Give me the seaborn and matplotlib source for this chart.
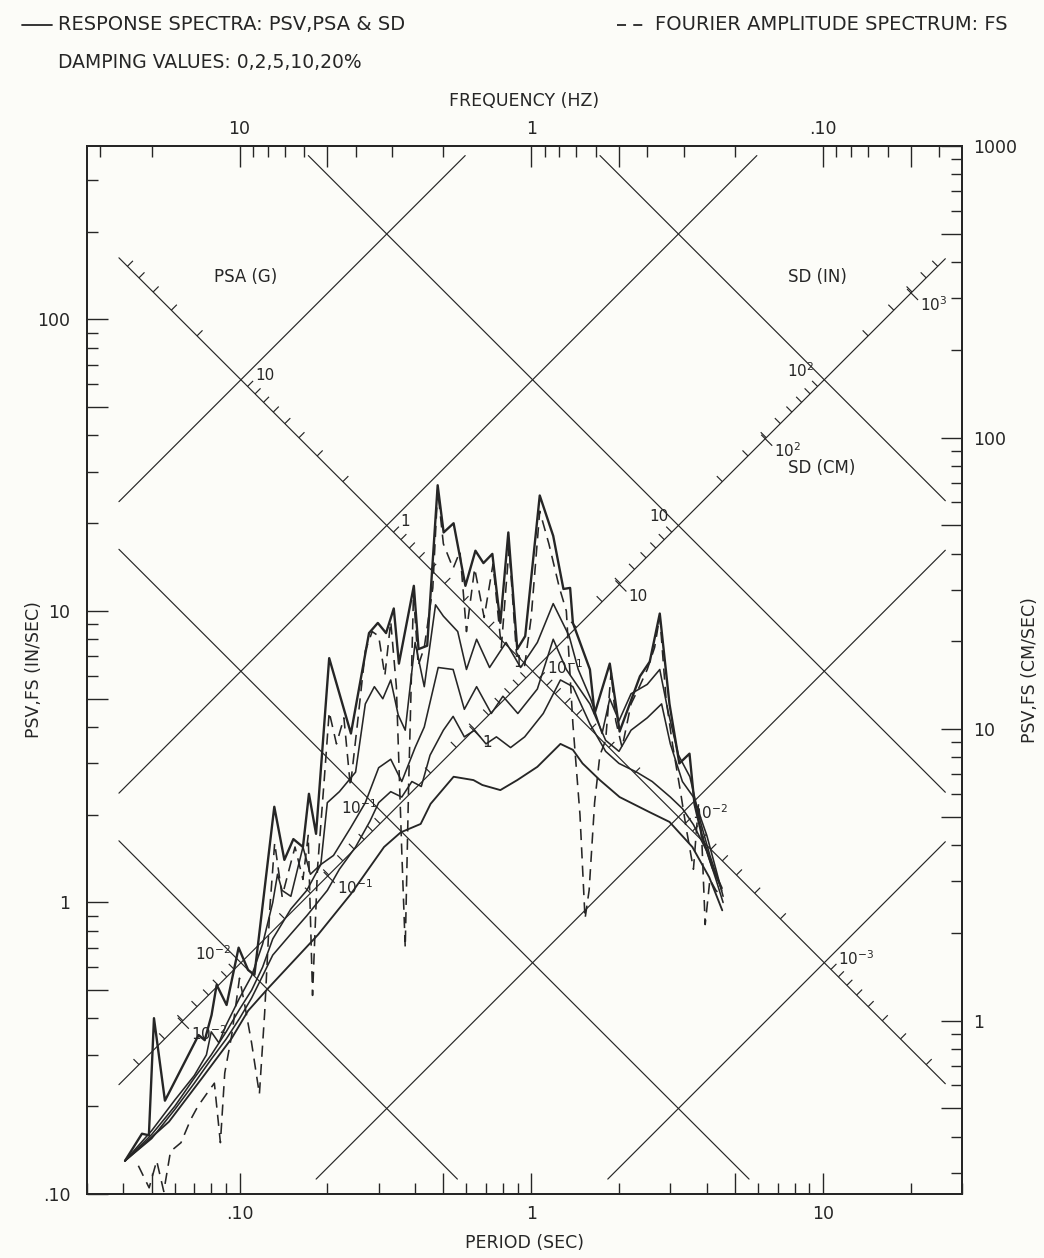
import numpy as np
import pandas as pd
import matplotlib
matplotlib.use('Agg')
import matplotlib.pyplot as plt
import matplotlib.ticker as mticker
from matplotlib.lines import Line2D
from matplotlib.collections import LineCollection
import seaborn as sns

# ---- values: period (sec) vs PSV (in/sec) ----
t_d0 = [0.0405, 0.0463, 0.0489, 0.0509, 0.0555, 0.0724, 0.076, 0.0802, 0.0835, 0.0903,
        0.0993, 0.107, 0.1125, 0.1316, 0.1425, 0.153, 0.165, 0.173, 0.183, 0.203,
        0.241, 0.278, 0.298, 0.318, 0.338, 0.352, 0.396, 0.411, 0.44, 0.478,
        0.501, 0.542, 0.595, 0.644, 0.686, 0.736, 0.784, 0.835, 0.896, 0.954,
        1.07, 1.19, 1.29, 1.36, 1.39, 1.59, 1.65, 1.86, 1.94, 2.01,
        2.36, 2.55, 2.76, 2.98, 3.22, 3.49, 3.63, 3.86, 4.18, 4.5]
v_d0 = [0.130, 0.161, 0.159, 0.401, 0.209, 0.351, 0.337, 0.411, 0.522, 0.445,
        0.70, 0.587, 0.565, 2.13, 1.40, 1.65, 1.55, 2.36, 1.72, 6.89,
        3.8, 8.4, 9.1, 8.4, 10.2, 6.6, 12.2, 7.4, 7.6, 27.0,
        18.6, 20.0, 12.2, 16.1, 14.6, 15.7, 9.1, 18.6, 7.4, 8.2,
        24.9, 18.1, 11.9, 12.0, 9.1, 6.3, 4.45, 6.6, 4.97, 3.86,
        5.97, 6.7, 9.8, 4.8, 3.0, 3.24, 2.18, 1.68, 1.32, 1.12]

t_d2 = [0.0405, 0.05, 0.06, 0.07, 0.077, 0.08, 0.085, 0.09, 0.1, 0.11,
        0.12, 0.13, 0.135, 0.14, 0.15, 0.165, 0.175, 0.19, 0.2, 0.22,
        0.25, 0.27, 0.29, 0.31, 0.33, 0.35, 0.37, 0.4, 0.43, 0.47,
        0.5, 0.56, 0.6, 0.65, 0.72, 0.82, 0.92, 1.05, 1.19, 1.35,
        1.45, 1.6, 1.75, 1.86, 2.0, 2.2, 2.5, 2.76, 2.95, 3.2,
        3.5, 3.8, 4.1, 4.5]
v_d2 = [0.13, 0.165, 0.21, 0.255, 0.3, 0.36, 0.33, 0.38, 0.47, 0.56,
        0.72, 1.0, 1.25, 1.1, 1.05, 1.55, 1.25, 1.35, 2.2, 2.4,
        2.8, 4.8, 5.5, 5.0, 5.8, 4.4, 3.9, 7.8, 5.5, 10.5,
        9.6, 8.5, 6.3, 8.0, 6.4, 7.8, 6.4, 7.8, 10.6, 8.2,
        6.3, 5.0, 3.8, 5.0, 4.2, 5.2, 5.6, 6.3, 4.5, 3.2,
        2.7, 1.9, 1.45, 1.1]

t_d5 = [0.0405, 0.05, 0.06, 0.07, 0.08, 0.09, 0.1, 0.11, 0.12, 0.13,
        0.15, 0.17, 0.19, 0.21, 0.24, 0.27, 0.3, 0.33, 0.36, 0.4,
        0.43, 0.48, 0.54, 0.59, 0.65, 0.73, 0.8, 0.9, 1.05, 1.19,
        1.32, 1.59, 1.8, 2.0, 2.2, 2.5, 2.8, 3.0, 3.3, 3.6,
        4.0, 4.3, 4.55]
v_d5 = [0.13, 0.16, 0.2, 0.25, 0.3, 0.36, 0.43, 0.5, 0.6, 0.75,
        0.95, 1.1, 1.35, 1.45, 1.8, 2.2, 2.9, 3.1, 2.6, 3.4,
        4.0, 6.4, 6.3, 4.6, 5.5, 4.45, 5.1, 4.45, 5.4, 8.0,
        6.3, 4.8, 3.6, 3.3, 3.9, 4.3, 4.8, 3.5, 2.6, 2.3,
        1.7, 1.3, 1.05]

t_d10 = [0.0405, 0.05, 0.06, 0.07, 0.08, 0.09, 0.1, 0.11, 0.12, 0.13,
         0.15, 0.17, 0.2, 0.22, 0.25, 0.28, 0.3, 0.33, 0.36, 0.39,
         0.42, 0.45, 0.5, 0.54, 0.59, 0.64, 0.7, 0.76, 0.85, 0.95,
         1.1, 1.26, 1.39, 1.59, 1.8, 2.0, 2.3, 2.6, 3.0, 3.3,
         3.6, 4.0, 4.3, 4.55]
v_d10 = [0.13, 0.155, 0.195, 0.24, 0.29, 0.34, 0.4, 0.47, 0.56, 0.66,
         0.78, 0.9, 1.1, 1.3, 1.55, 1.9, 2.2, 2.4, 2.3, 2.6,
         2.5, 3.2, 3.9, 4.35, 3.7, 3.9, 3.5, 3.7, 3.4, 3.7,
         4.45, 5.8, 5.5, 4.1, 3.3, 3.0, 2.8, 2.6, 2.3, 2.1,
         1.85, 1.5, 1.2, 1.0]

t_d20 = [0.0405, 0.0573, 0.0742, 0.094, 0.107, 0.1256, 0.186, 0.241, 0.313, 0.357,
         0.418, 0.452, 0.542, 0.634, 0.68, 0.784, 0.896, 1.05, 1.26, 1.39,
         1.5, 1.72, 2.01, 2.55, 2.98, 3.57, 4.08, 4.52]
v_d20 = [0.13, 0.177, 0.249, 0.342, 0.425, 0.509, 0.776, 1.07, 1.55, 1.74,
         1.86, 2.18, 2.70, 2.63, 2.53, 2.43, 2.63, 2.92, 3.5, 3.34,
         3.0, 2.63, 2.3, 2.04, 1.89, 1.55, 1.22, 0.94]

# Fourier amplitude spectrum (dashed)
t_fs = [0.045, 0.049, 0.052, 0.055, 0.058, 0.063, 0.068, 0.072, 0.077, 0.082,
        0.086, 0.089, 0.094, 0.1, 0.104, 0.11, 0.117, 0.122, 0.127, 0.132,
        0.14, 0.148, 0.155, 0.165, 0.172, 0.178, 0.185, 0.195, 0.203, 0.215,
        0.228, 0.24, 0.255, 0.27, 0.285, 0.3, 0.315, 0.33, 0.345, 0.36,
        0.37, 0.38, 0.395, 0.41, 0.43, 0.46, 0.478, 0.5, 0.54, 0.57,
        0.6, 0.64, 0.69, 0.74, 0.79, 0.84, 0.89, 0.95, 1.0, 1.07,
        1.15, 1.25, 1.32, 1.39, 1.47, 1.53, 1.58, 1.65, 1.72, 1.8,
        1.88, 1.95, 2.05, 2.2, 2.35, 2.5, 2.65, 2.76, 2.9, 3.05,
        3.25, 3.4, 3.6, 3.75, 3.85, 3.95, 4.1, 4.3, 4.5]
v_fs = [0.125, 0.105, 0.13, 0.102, 0.14, 0.15, 0.18, 0.2, 0.22, 0.24,
        0.15, 0.26, 0.35, 0.55, 0.45, 0.33, 0.22, 0.42, 0.95, 1.6,
        1.05, 1.3, 1.55, 1.2, 1.7, 0.48, 1.3, 2.6, 4.5, 3.5,
        4.3, 2.5, 4.3, 7.3, 8.5, 8.2, 6.0, 9.2, 5.5, 1.5,
        0.7, 2.5, 11.5, 6.5, 7.5, 12.0, 26.0, 17.0, 14.0, 16.0,
        8.5, 14.0, 9.5, 14.5, 7.5, 16.5, 7.2, 6.5, 9.5, 22.0,
        17.0, 12.0, 10.0, 4.1, 2.0, 0.88, 1.1, 2.2, 3.2, 3.6,
        6.2, 4.2, 3.4, 4.8, 5.5, 6.3, 7.5, 9.6, 5.0, 3.5,
        2.4, 1.8, 1.3, 2.2, 1.6, 0.84, 1.2, 1.1, 1.05]

damping_curves = [(t_d0, v_d0, 1.7), (t_d2, v_d2, 1.15), (t_d5, v_d5, 1.15),
                  (t_d10, v_d10, 1.15), (t_d20, v_d20, 1.35)]

# tripartite grid
psa_lines = [1e-3, 1e-2, 1e-1, 1, 10]          # g
sd_lines = [1e-2, 1e-1, 1, 10, 100]            # in
psa_labels = {10: '10', 1: '1', 0.1: '10$^{-1}$', 0.01: '10$^{-2}$', 0.001: '10$^{-3}$'}
sd_in_labels = {0.01: '10$^{-2}$', 0.1: '10$^{-1}$', 1: '1', 10: '10', 100: '10$^{2}$'}
sd_cm_labels = {0.01: '10$^{-2}$', 0.1: '10$^{-1}$', 1: '1', 10: '10', 100: '10$^{2}$', 1000: '10$^{3}$'}

G_IN = 386.09
x_lo, x_hi = 0.03, 30.0
y_lo, y_hi = 0.1, 1000 / 2.54
box = (0.0386, 26.3, 0.1125, 365.0)   # where the diagonal grid is drawn

ink = '#262626'
bg = '#fcfcf8'

sns.set_style('white')
plt.rcParams['font.family'] = ['DejaVu Sans']
plt.rcParams['mathtext.fontset'] = 'dejavusans'

fig = plt.figure(figsize=(10.44, 12.58), dpi=100, facecolor=bg)
ax = fig.add_axes([87 / 1044, 64 / 1258, 875 / 1044, 1048 / 1258])
ax.set_facecolor(bg)
ax.set_xscale('log')
ax.set_yscale('log')
ax.set_xlim(x_lo, x_hi)
ax.set_ylim(y_lo, y_hi)

# pixels per decade, used for perpendicular ticks on the diagonal scales
sx = ax.bbox.width / np.log10(x_hi / x_lo)
sy = ax.bbox.height / np.log10(y_hi / y_lo)


def shift(t, v, dx, dy):
    return t * 10 ** (dx / sx), v * 10 ** (dy / sy)


t0, t1, v0, v1 = box
grid_kw = dict(color=ink, lw=0.85, zorder=1)
for a in psa_lines:
    k = G_IN * a / (2 * np.pi)
    lo, hi = max(t0, v0 / k), min(t1, v1 / k)
    if lo < hi:
        ax.plot([lo, hi], [k * lo, k * hi], **grid_kw)
for d in sd_lines:
    k = 2 * np.pi * d
    lo, hi = max(t0, k / v1), min(t1, k / v0)
    if lo < hi:
        ax.plot([lo, hi], [k / lo, k / hi], **grid_kw)

# PSA scale along SD = 1 in line (ticks up-right)
segs = []
k_sd = 2 * np.pi
for dec in range(-4, 3):
    for m in range(2, 10):
        a = m * 10.0 ** dec
        k_a = G_IN * a / (2 * np.pi)
        t = np.sqrt(k_sd / k_a)
        if t0 < t < t1:
            v = k_a * t
            segs.append([(t, v), shift(t, v, 5.5, 5.5)])
for a, lab in psa_labels.items():
    k_a = G_IN * a / (2 * np.pi)
    t = np.sqrt(k_sd / k_a)
    ax.annotate(lab, (t, k_a * t), xytext=(14, 4), textcoords='offset pixels',
                fontsize=11, color=ink, ha='left', va='center')

# SD scale along PSA = 0.1 g line (inch ticks up-left, cm ticks down-right)
k_p = G_IN * 0.1 / (2 * np.pi)
for dec in range(-3, 3):
    for m in range(2, 10):
        d = m * 10.0 ** dec
        t = np.sqrt(2 * np.pi * d / k_p)
        if t0 < t < t1:
            v = k_p * t
            segs.append([(t, v), shift(t, v, -5.5, 5.5)])
for d, lab in sd_in_labels.items():
    t = np.sqrt(2 * np.pi * d / k_p)
    ax.annotate(lab, (t, k_p * t), xytext=(-10, 9), textcoords='offset pixels',
                fontsize=11, color=ink, ha='right', va='center')
for dcm, lab in sd_cm_labels.items():
    t = np.sqrt(2 * np.pi * dcm / 2.54 / k_p)
    v = k_p * t
    segs.append([shift(t, v, -4, 4), shift(t, v, 7, -7)])
    ax.annotate(lab, (t, v), xytext=(9, -12), textcoords='offset pixels',
                fontsize=11, color=ink, ha='left', va='center')
ax.add_collection(LineCollection(segs, colors=ink, linewidths=0.85, zorder=1))

ax.text(0.0815, 140, 'PSA (G)', fontsize=12, color=ink, va='center')
ax.text(7.6, 140, 'SD (IN)', fontsize=12, color=ink, va='center')
ax.text(7.6, 31, 'SD (CM)', fontsize=12, color=ink, va='center')

# spectra
for t, v, lw in damping_curves:
    sns.lineplot(x=t, y=v, ax=ax, color=ink, lw=lw, sort=False, estimator=None, zorder=3)
sns.lineplot(x=t_fs, y=v_fs, ax=ax, color=ink, lw=1.15, sort=False, estimator=None,
             zorder=3)
ax.lines[-1].set_dashes((7, 4.5))


# axes ticks: long ticks at decades and at fives
def decade_ticks(lo, hi):
    major, minor = [], []
    for e in range(-4, 5):
        for m in range(1, 10):
            val = m * 10.0 ** e
            if lo * 0.999 <= val <= hi * 1.001:
                (major if m in (1, 5) else minor).append(val)
    return major, minor


def tick_text(val, names):
    for key, txt in names.items():
        if np.isclose(val, key):
            return txt
    return ''


tick_kw = dict(direction='in', colors=ink, width=1.0)
maj, mnr = decade_ticks(x_lo, x_hi)
ax.set_xticks(maj)
ax.set_xticks(mnr, minor=True)
ax.set_xticklabels([tick_text(m, {0.1: '.10', 1: '1', 10: '10'}) for m in maj])
maj, mnr = decade_ticks(y_lo, y_hi)
ax.set_yticks(maj)
ax.set_yticks(mnr, minor=True)
ax.set_yticklabels([tick_text(m, {0.1: '.10', 1: '1', 10: '10', 100: '100'}) for m in maj])
ax.tick_params(which='major', length=15, labelsize=12.5, **tick_kw)
ax.tick_params(axis='y', which='major', pad=12)
ax.tick_params(axis='x', which='major', pad=8)
ax.tick_params(which='minor', length=8, **tick_kw)
ax.tick_params(top=False, right=False, which='both')

# right axis in cm/sec
axr = ax.twinx()
axr.set_yscale('log')
axr.set_ylim(y_lo * 2.54, y_hi * 2.54)
maj, mnr = decade_ticks(y_lo * 2.54, y_hi * 2.54)
axr.set_yticks(maj)
axr.set_yticks(mnr, minor=True)
axr.set_yticklabels([tick_text(m, {1: '1', 10: '10', 100: '100', 1000: '1000'}) for m in maj])
axr.yaxis.set_minor_formatter(mticker.NullFormatter())
axr.tick_params(which='major', length=15, labelsize=12.5, pad=8, **tick_kw)
axr.tick_params(which='minor', length=8, **tick_kw)

# top axis in frequency
axt = ax.twiny()
axt.set_xscale('log')
axt.set_xlim(x_lo, x_hi)
fmaj, fmnr = decade_ticks(1 / x_hi, 1 / x_lo)
axt.set_xticks([1 / f for f in fmaj])
axt.set_xticks([1 / f for f in fmnr], minor=True)
axt.set_xticklabels([tick_text(f, {10: '10', 1: '1', 0.1: '.10'}) for f in fmaj])
axt.xaxis.set_minor_formatter(mticker.NullFormatter())
axt.tick_params(which='major', length=15, labelsize=12.5, pad=6, **tick_kw)
axt.tick_params(which='minor', length=8, **tick_kw)
ax.xaxis.set_minor_formatter(mticker.NullFormatter())
ax.yaxis.set_minor_formatter(mticker.NullFormatter())

for a_ in (ax, axr, axt):
    for s in a_.spines.values():
        s.set_color(ink)
        s.set_linewidth(1.2)

ax.set_xlabel('PERIOD (SEC)', fontsize=12.5, color=ink, labelpad=8)
axt.set_xlabel('FREQUENCY (HZ)', fontsize=12.5, color=ink, labelpad=10)
fig.text(34 / 1044, 0.5 * (64 + 1112) / 1258, 'PSV,FS (IN/SEC)', fontsize=12.5, color=ink,
         rotation=90, ha='center', va='center')
fig.text(1030 / 1044, 0.5 * (64 + 1112) / 1258, 'PSV,FS (CM/SEC)', fontsize=12.5, color=ink,
         rotation=90, ha='center', va='center')

# header / legend
yh1, yh2 = 1 - 25 / 1258, 1 - 63 / 1258
fig.add_artist(Line2D([22 / 1044, 52 / 1044], [yh1, yh1], color=ink, lw=1.3))
fig.text(58 / 1044, yh1, 'RESPONSE SPECTRA: PSV,PSA & SD', fontsize=14, color=ink, va='center')
fig.add_artist(Line2D([617 / 1044, 645 / 1044], [yh1, yh1], color=ink, lw=1.3,
                      dashes=(5, 4)))
fig.text(655 / 1044, yh1, 'FOURIER AMPLITUDE SPECTRUM: FS', fontsize=14, color=ink, va='center')
fig.text(58 / 1044, yh2, 'DAMPING VALUES: 0,2,5,10,20%', fontsize=13.5, color=ink, va='center')

fig.savefig('out.png', dpi=100, facecolor=bg)
